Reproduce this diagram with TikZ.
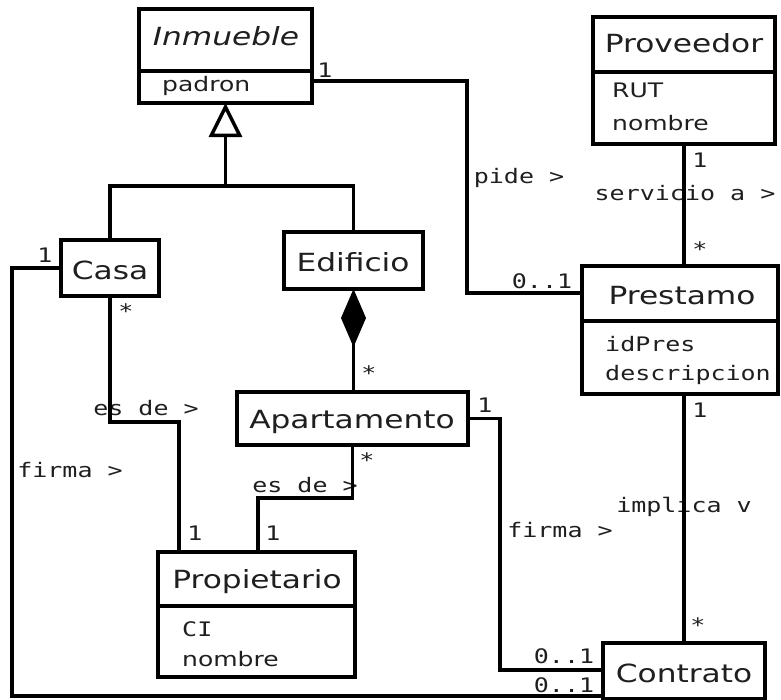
\documentclass[tikz,border=0pt]{standalone}
\usepackage{fontspec}
\setmainfont{DejaVu Sans}[FakeStretch=1.25]
\newfontfamily\monofam{DejaVu Sans Mono}[FakeStretch=1.25]
\usetikzlibrary{arrows.meta}
\begin{document}
\begin{tikzpicture}[x=1bp,y=-1bp,
  cls/.style={draw, line width=3.5bp, inner sep=0pt, outer sep=0pt, fill=white},
  conn/.style={line width=3.5bp},
  ttl/.style={font=\fontsize{25bp}{29bp}\selectfont, inner sep=0pt, anchor=base, text=black!88},
  attr/.style={font=\fontsize{20bp}{24bp}\selectfont, inner sep=0pt, anchor=base west, text=black!88},
  mattr/.style={font=\monofam\fontsize{20bp}{24bp}\selectfont, inner sep=0pt, anchor=base west, text=black!88},
  lbl/.style={font=\monofam\fontsize{20bp}{24bp}\selectfont, inner sep=0pt, anchor=base, text=black!88}]
\useasboundingbox (0,0) rectangle (781,700);
% class boxes
\node[cls, minimum width=173bp, minimum height=94bp] (inm) at (225.5,56) {};
\node[cls, minimum width=182bp, minimum height=127bp] (prov) at (684,80.5) {};
\node[cls, minimum width=98bp, minimum height=56bp] (casa) at (110,268) {};
\node[cls, minimum width=139bp, minimum height=57bp] (edi) at (353.5,260.5) {};
\node[cls, minimum width=231bp, minimum height=53bp] (apt) at (352.5,418.5) {};
\node[cls, minimum width=196bp, minimum height=128bp] (pre) at (680,330) {};
\node[cls, minimum width=197bp, minimum height=125bp] (prop) at (256.5,614.5) {};
\node[cls, minimum width=162bp, minimum height=56bp] (con) at (684,671) {};
% dividers
\draw[conn] ([yshift=-62bp]inm.north west) -- ([yshift=-62bp]inm.north east);
\draw[conn] ([yshift=-55bp]prov.north west) -- ([yshift=-55bp]prov.north east);
\draw[conn] ([yshift=-55bp]pre.north west) -- ([yshift=-55bp]pre.north east);
\draw[conn] ([yshift=-54bp]prop.north west) -- ([yshift=-54bp]prop.north east);
% titles
\node[ttl, font=\fontsize{25bp}{29bp}\selectfont\itshape] (tinm) at (226,46) {Inmueble};
\node[ttl] (tprov) at (684,53) {Proveedor};
\node[ttl] (tcasa) at (110,279) {Casa};
\node[ttl] (tedi) at (353,271) {Edificio};
\node[ttl] (tapt) at (352,428) {Apartamento};
\node[ttl] (tpre) at (682,304) {Prestamo};
\node[ttl] (tprop) at (257,588) {Propietario};
\node[ttl] (tcon) at (684,682) {Contrato};
% attributes
\node[attr] (a1) at (162,92) {padron};
\node[attr] (a2) at (612,98) {RUT};
\node[attr] (a3) at (612,131) {nombre};
\node[mattr] (a4) at (605,351) {idPres};
\node[mattr] (a5) at (605,380) {descripcion};
\node[mattr] (a6) at (182,636) {CI};
\node[attr] (a7) at (182,666) {nombre};
% labels
\node[lbl] (l1) at (325,78) {1};
\node[lbl] (l2) at (519,183) {pide >};
\node[lbl] (l3) at (685,200) {servicio a >};
\node[lbl] (l4) at (700,167) {1};
\node[lbl] (l5) at (700,256) {*};
\node[lbl] (l6) at (542,288) {0..1};
\node[lbl] (l7) at (700,417) {1};
\node[lbl] (l8) at (45,262) {1};
\node[lbl] (l9) at (126,318) {*};
\node[lbl] (l10) at (369,380) {*};
\node[lbl] (l11) at (485,412) {1};
\node[lbl] (l12) at (367,467) {*};
\node[lbl] (l13) at (146,415) {es de >};
\node[lbl] (l14) at (305,492) {es de >};
\node[lbl] (l15) at (70,477) {firma >};
\node[lbl] (l16) at (195,540) {1};
\node[lbl] (l17) at (273,540) {1};
\node[lbl] (l18) at (560,537) {firma >};
\node[lbl] (l19) at (684,512) {implica v};
\node[lbl] (l20) at (698,632) {*};
\node[lbl] (l21) at (564,663) {0..1};
\node[lbl] (l22) at (564,692) {0..1};
% connectors
\draw[conn] ([yshift=-25bp]inm.east) -- ++(155,0) |- ([yshift=37bp]pre.west);
\draw[conn] (prov.south) -- (prov.south |- pre.north);
\draw[conn] (casa.north) -- ++(0,-54) -| (edi.north);
\draw[conn, -{Triangle[open, width=33bp, length=34bp]}] ([yshift=-83bp]inm.south) -- (inm.south);
\draw[conn, -{Diamond[width=25bp, length=58bp]}] (edi.south |- apt.north) -- (edi.south);
\draw[conn] (casa.south) -- ++(0,126) -| ([xshift=-77.5bp]prop.north);
\draw[conn] (apt.south) -- ++(0,53) -| ([xshift=1.5bp]prop.north);
\draw[conn] (apt.east) -- ++(32,0) |- ([yshift=1bp]con.west);
\draw[conn] (casa.west) -- ++(-49,0) |- ([yshift=-25bp]con.west);
\draw[conn] (con.north |- pre.south) -- (con.north);
\end{tikzpicture}
\end{document}
